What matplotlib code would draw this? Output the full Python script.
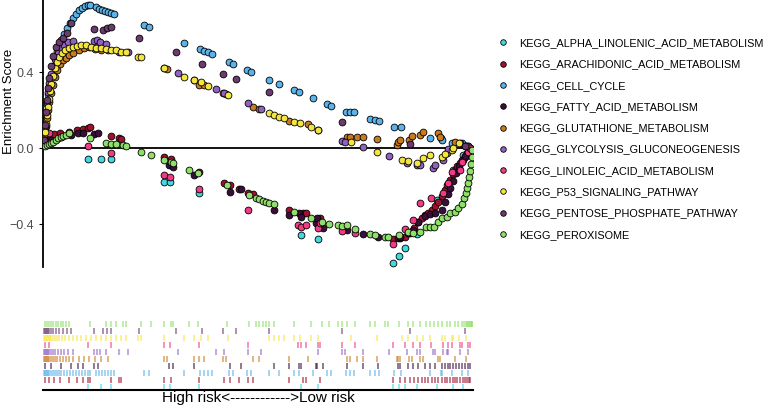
# GSEA running enrichment score plot, high vs low risk groups

import matplotlib
matplotlib.use("Agg")
import matplotlib.pyplot as plt
from matplotlib.lines import Line2D

plt.rcParams['font.family'] = ['Liberation Sans', 'DejaVu Sans']

# Pathway names (legend order)

pathways = ["KEGG_ALPHA_LINOLENIC_ACID_METABOLISM",
            "KEGG_ARACHIDONIC_ACID_METABOLISM",
            "KEGG_CELL_CYCLE",
            "KEGG_FATTY_ACID_METABOLISM",
            "KEGG_GLUTATHIONE_METABOLISM",
            "KEGG_GLYCOLYSIS_GLUCONEOGENESIS",
            "KEGG_LINOLEIC_ACID_METABOLISM",
            "KEGG_P53_SIGNALING_PATHWAY",
            "KEGG_PENTOSE_PHOSPHATE_PATHWAY",
            "KEGG_PEROXISOME"]

colors = ["#3fd9e2", "#a0102f", "#5cb3ea", "#3a0d3a", "#c97b1e",
          "#9162c2", "#f23b84", "#f4e540", "#6b3b6e", "#8fe068"]

# Running enrichment score at each hit: (rank, ES)

alpha_linolenic = [(44, -0.058), (57, -0.058), (67, -0.058), (120, -0.179), (126, -0.179),
                   (155, -0.237), (257, -0.458), (275, -0.479), (350, -0.605), (356, -0.568),
                   (362, -0.526), (374, -0.453), (394, -0.274), (410, -0.116), (420, -0.037)]

arachidonic = [(1, 0.032), (5, 0.053), (10, 0.074), (16, 0.079), (25, 0.084), (33, 0.095),
               (39, 0.1), (44, 0.105), (46, 0.111), (67, 0.063), (75, 0.053), (77, 0.047),
               (120, -0.047), (127, -0.058), (155, -0.126), (180, -0.184), (186, -0.195),
               (195, -0.216), (204, -0.237), (209, -0.242), (245, -0.326), (259, -0.342),
               (262, -0.342), (277, -0.368), (350, -0.479), (357, -0.474), (362, -0.468),
               (367, -0.447), (371, -0.421), (375, -0.389), (379, -0.368), (382, -0.353),
               (385, -0.342), (389, -0.326), (392, -0.305), (395, -0.284), (399, -0.253),
               (402, -0.221), (404, -0.195), (407, -0.168), (410, -0.137), (412, -0.116),
               (414, -0.095), (417, -0.079), (420, -0.063), (422, -0.047), (424, -0.026),
               (426, -0.011), (427, 0.0)]

cell_cycle = [(0, 0.042), (1, 0.105), (2, 0.174), (3, 0.232), (4, 0.284), (5, 0.326),
              (7, 0.379), (9, 0.432), (11, 0.474), (13, 0.511), (15, 0.542), (17, 0.568),
              (20, 0.6), (23, 0.632), (26, 0.658), (29, 0.684), (32, 0.705), (35, 0.726),
              (38, 0.737), (41, 0.747), (44, 0.753), (46, 0.753), (52, 0.742), (55, 0.732),
              (58, 0.726), (61, 0.721), (64, 0.716), (67, 0.711), (70, 0.705), (100, 0.647),
              (105, 0.637), (140, 0.553), (156, 0.521), (160, 0.511), (164, 0.505),
              (168, 0.495), (185, 0.453), (189, 0.442), (203, 0.411), (207, 0.4),
              (225, 0.358), (235, 0.337), (250, 0.305), (255, 0.295), (269, 0.263),
              (284, 0.232), (288, 0.221), (303, 0.189), (307, 0.189), (311, 0.189),
              (327, 0.153), (332, 0.147), (336, 0.142), (351, 0.111), (358, 0.111),
              (387, 0.053), (398, 0.053), (399, 0.042), (409, 0.026), (419, 0.026),
              (425, 0.011)]

fatty_acid = [(1, 0.016), (7, 0.042), (17, 0.058), (27, 0.068), (34, 0.079), (39, 0.079),
              (50, 0.074), (54, 0.079), (125, -0.089), (129, -0.1), (150, -0.142),
              (186, -0.232), (197, -0.216), (230, -0.326), (245, -0.353), (255, -0.342),
              (257, -0.363), (272, -0.395), (274, -0.368), (280, -0.421), (304, -0.432),
              (320, -0.453), (335, -0.468), (355, -0.474), (357, -0.468), (365, -0.447),
              (370, -0.432), (375, -0.389), (382, -0.358), (387, -0.347), (392, -0.342),
              (399, -0.326), (402, -0.284), (405, -0.242), (407, -0.211), (410, -0.174),
              (413, -0.132), (416, -0.095), (419, -0.063), (422, -0.042), (425, -0.021),
              (427, 0.0)]

glutathione = [(0, 0.032), (1, 0.074), (2, 0.116), (3, 0.158), (4, 0.2), (5, 0.242),
               (7, 0.289), (9, 0.332), (11, 0.374), (13, 0.411), (16, 0.442), (19, 0.463),
               (22, 0.474), (25, 0.489), (29, 0.5), (35, 0.516), (40, 0.526), (45, 0.532),
               (51, 0.521), (57, 0.516), (64, 0.516), (120, 0.421), (123, 0.416),
               (150, 0.358), (155, 0.332), (160, 0.332), (179, 0.289), (182, 0.284),
               (209, 0.216), (215, 0.205), (245, 0.142), (264, 0.126), (304, 0.058),
               (307, 0.058), (314, 0.058), (320, 0.058), (334, 0.047), (354, 0.016),
               (355, 0.032), (357, 0.042), (366, 0.042), (369, 0.063), (377, 0.068),
               (380, 0.084), (395, 0.079), (397, 0.058), (412, 0.032), (423, 0.011)]

glycolysis = [(0, 0.042), (1, 0.111), (2, 0.179), (3, 0.242), (4, 0.295), (5, 0.342),
              (7, 0.389), (9, 0.432), (11, 0.468), (14, 0.5), (17, 0.526), (20, 0.542),
              (24, 0.558), (29, 0.563), (50, 0.563), (53, 0.568), (56, 0.558), (62, 0.547),
              (75, 0.505), (84, 0.505), (134, 0.395), (172, 0.311), (180, 0.289),
              (204, 0.237), (217, 0.205), (275, 0.095), (299, 0.037), (302, 0.032),
              (320, 0.005), (346, -0.042), (364, -0.079), (374, -0.089), (377, -0.089),
              (390, -0.105), (392, -0.089), (400, -0.063), (404, -0.026), (405, -0.005),
              (417, 0.026), (425, 0.011)]

linoleic = [(1, 0.042), (5, 0.079), (44, 0.011), (67, -0.026), (120, -0.142), (126, -0.153),
            (155, -0.216), (204, -0.326), (254, -0.405), (257, -0.416), (262, -0.405),
            (275, -0.421), (277, -0.395), (299, -0.437), (312, -0.447), (350, -0.505),
            (362, -0.426), (370, -0.379), (377, -0.289), (388, -0.263), (400, -0.237),
            (405, -0.184), (409, -0.126), (417, -0.116), (419, -0.074), (425, -0.021),
            (427, 0.0)]

p53 = [(0, 0.042), (1, 0.084), (2, 0.126), (3, 0.174), (4, 0.216), (5, 0.258), (6, 0.3),
       (7, 0.337), (9, 0.379), (11, 0.421), (13, 0.453), (15, 0.479), (18, 0.5), (21, 0.516),
       (25, 0.526), (29, 0.532), (33, 0.537), (37, 0.542), (42, 0.542), (47, 0.532),
       (52, 0.526), (57, 0.526), (62, 0.521), (67, 0.516), (72, 0.516), (77, 0.505),
       (82, 0.505), (94, 0.479), (97, 0.479), (120, 0.421), (140, 0.374), (150, 0.358),
       (157, 0.347), (164, 0.326), (184, 0.279), (225, 0.184), (230, 0.174), (235, 0.163),
       (240, 0.158), (250, 0.137), (256, 0.132), (267, 0.111), (275, 0.095), (308, 0.032),
       (334, -0.021), (359, -0.063), (365, -0.068), (374, -0.079), (380, -0.053),
       (387, -0.037), (399, -0.047), (402, -0.032), (409, -0.011), (410, 0.0),
       (416, 0.026), (423, 0.011)]

pentose = [(0, 0.042), (1, 0.121), (2, 0.189), (3, 0.253), (4, 0.316), (5, 0.368),
           (7, 0.432), (9, 0.484), (12, 0.532), (15, 0.558), (19, 0.579), (23, 0.605),
           (27, 0.658), (50, 0.626), (59, 0.621), (63, 0.632), (67, 0.637), (95, 0.579),
           (132, 0.505), (158, 0.442), (179, 0.389), (192, 0.363), (225, 0.295),
           (299, 0.137), (367, 0.021), (422, 0.011)]

peroxisome = [(1, 0.011), (3, 0.016), (5, 0.021), (7, 0.026), (9, 0.032), (12, 0.042),
              (14, 0.053), (17, 0.058), (19, 0.063), (22, 0.068), (25, 0.079), (46, 0.053),
              (62, 0.026), (67, 0.021), (72, 0.021), (79, 0.016), (82, 0.011), (97, -0.021),
              (107, -0.037), (120, -0.063), (127, -0.074), (129, -0.079), (145, -0.116),
              (154, -0.132), (183, -0.195), (205, -0.247), (212, -0.263), (215, -0.268),
              (219, -0.279), (222, -0.284), (225, -0.289), (230, -0.295), (250, -0.337),
              (267, -0.368), (279, -0.389), (286, -0.4), (295, -0.405), (299, -0.411),
              (304, -0.405), (312, -0.426), (327, -0.453), (332, -0.458), (342, -0.468),
              (345, -0.468), (356, -0.458), (365, -0.442), (370, -0.447), (377, -0.442),
              (383, -0.416), (387, -0.416), (391, -0.416), (395, -0.389), (399, -0.368),
              (404, -0.363), (407, -0.342), (412, -0.337), (415, -0.316), (419, -0.295),
              (421, -0.263), (423, -0.237), (424, -0.211), (425, -0.184), (426, -0.153),
              (427, -0.121), (428, -0.084), (429, -0.047), (429, -0.011)]

series = [alpha_linolenic, arachidonic, cell_cycle, fatty_acid, glutathione,
          glycolysis, linoleic, p53, pentose, peroxisome]

n_genes = 430

# Figure with running score panel and hit rug panel

fig = plt.figure(figsize=(7.67, 4.07), dpi=100)
ax = fig.add_axes([0.056, 0.344, 0.561, 0.656])
ax_rug = fig.add_axes([0.056, 0.0418, 0.561, 0.177])

for pts, col in zip(series, colors):
    xs = [p[0] for p in pts]
    ys = [p[1] for p in pts]
    ax.scatter(xs, ys, s=24, color=col, edgecolor="black", linewidth=0.6, zorder=3)

ax.axhline(0, color="black", linewidth=1.3, zorder=2)
ax.set_xlim(-1, n_genes)
ax.set_ylim(-0.626, 0.779)
ax.set_yticks([-0.4, 0.0, 0.4])
ax.set_yticklabels(["\u22120.4", "0.0", "0.4"])
ax.set_xticks([])
ax.tick_params(axis="y", labelsize=9, labelcolor="#4d4d4d", color="black", length=3)
ax.set_ylabel("Enrichment Score", fontsize=9.5)
ax.yaxis.set_label_coords(-0.064, 0.62)
for s in ["top", "right", "bottom"]:
    ax.spines[s].set_visible(False)
ax.spines["left"].set_linewidth(1.3)

# Hit rug: one row per pathway, first pathway at the bottom

for i, (pts, col) in enumerate(zip(series, colors)):
    xs = [p[0] for p in pts]
    ax_rug.vlines(xs, i - 0.42, i + 0.42, color=col, alpha=0.65, linewidth=1.2)

ax_rug.set_xlim(-1, n_genes)
ax_rug.set_ylim(-0.43, 9.86)
ax_rug.set_xticks([])
ax_rug.set_yticks([])
for s in ["top", "right", "left"]:
    ax_rug.spines[s].set_visible(False)
ax_rug.spines["bottom"].set_linewidth(1.5)
ax_rug.set_xlabel("High risk<------------>Low risk", fontsize=11, labelpad=1)

# Legend

handles = [Line2D([], [], linestyle="", marker="o", markersize=4, markerfacecolor=c,
                  markeredgecolor="black", markeredgewidth=0.6) for c in colors]
fig.legend(handles, pathways, loc="upper left", bbox_to_anchor=(0.636, 0.93),
           frameon=False, fontsize=7.8, labelspacing=1.04, handletextpad=1.0,
           handlelength=1.0)

fig.savefig("out.png", dpi=100)
